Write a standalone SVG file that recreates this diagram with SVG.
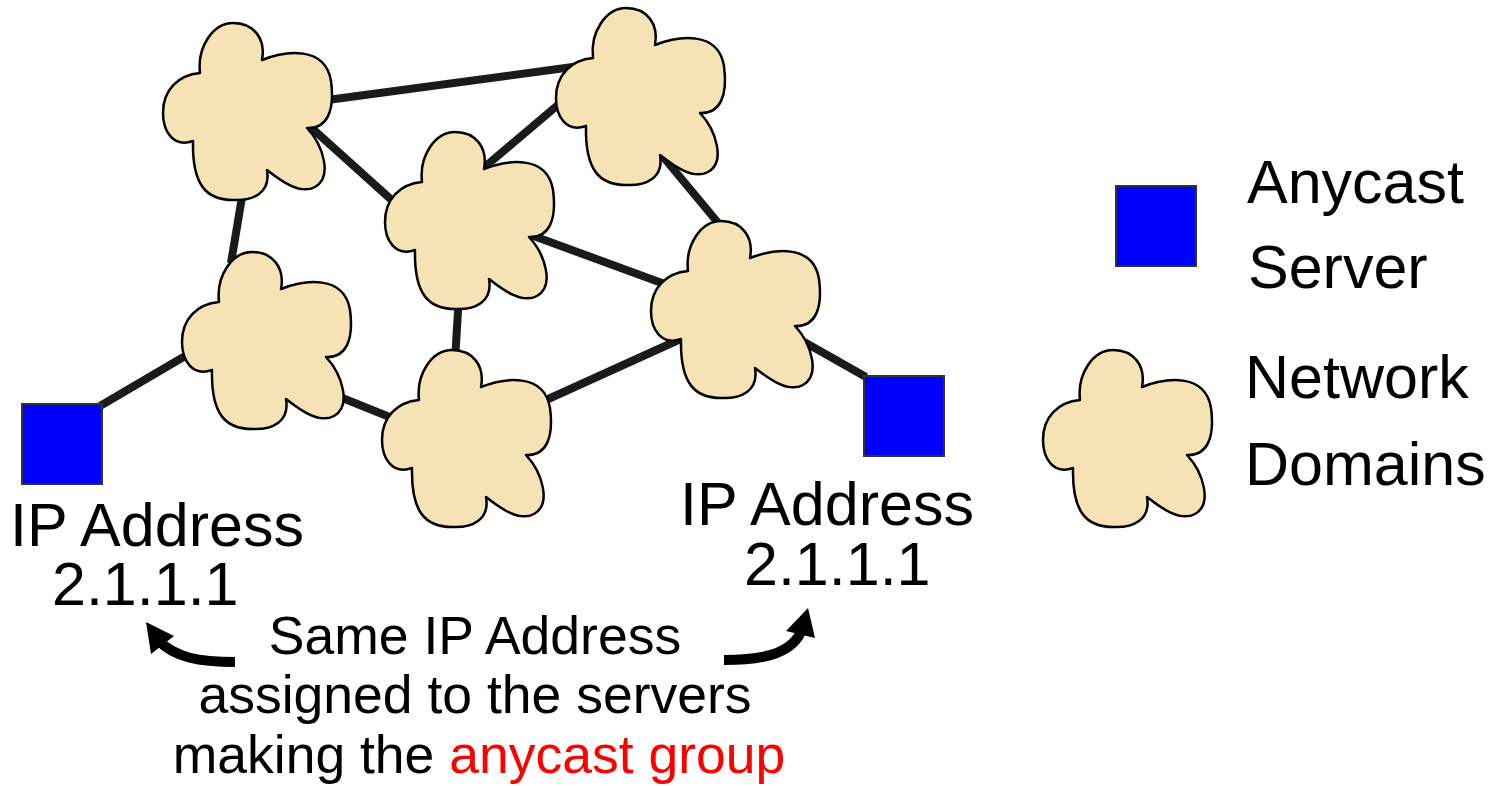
<svg xmlns="http://www.w3.org/2000/svg" xmlns:xlink="http://www.w3.org/1999/xlink" width="1498" height="786" viewBox="0 0 1498 786">
<style>
.link{stroke:#1a1a1a;stroke-width:8;fill:none;stroke-linecap:butt}
.cloud{fill:#F5E3B5;stroke:#000;stroke-width:2.5;stroke-linejoin:round}
.server{fill:#0000FF;stroke:#333;stroke-width:2}
.t{font-family:"Liberation Sans",Arial,sans-serif;fill:#000}
.lbl{font-size:61px}
.mid{font-size:53.5px}
.arrow{stroke:#000;stroke-width:10;fill:none}
</style>
<defs>
<path id="cloud" d="M37,50 C34,24 50,0 70,0 C91,0 103,16 99,37 C122,28 162,22 168,58 C172,88 164,106 144,105 C160,122 170,154 152,164 C137,172 118,158 104,147 C108,170 90,178 70,177 C44,177 29,163 30,118 C10,125 0,108 0,90 C0,67 15,52 37,50 Z"/>
</defs>
<g id="connectors">
<line class="link" x1="320" y1="101" x2="580" y2="66"/>
<line class="link" x1="305" y1="122" x2="395" y2="203"/>
<line class="link" x1="244" y1="185" x2="231" y2="263"/>
<line class="link" x1="565" y1="99" x2="480" y2="171"/>
<line class="link" x1="660" y1="153" x2="724" y2="230"/>
<line class="link" x1="520" y1="231" x2="670" y2="286"/>
<line class="link" x1="459" y1="295" x2="455" y2="360"/>
<line class="link" x1="330" y1="393" x2="397" y2="420"/>
<line class="link" x1="535" y1="405" x2="685" y2="337"/>
<line class="link" x1="100" y1="406" x2="192" y2="352"/>
<line class="link" x1="790" y1="334" x2="866" y2="377"/>
</g>
<g id="cloud-top-left"><use xlink:href="#cloud" href="#cloud" class="cloud" transform="translate(163,23)"/></g>
<g id="cloud-top-right"><use xlink:href="#cloud" href="#cloud" class="cloud" transform="translate(556,8)"/></g>
<g id="cloud-center"><use xlink:href="#cloud" href="#cloud" class="cloud" transform="translate(385,132)"/></g>
<g id="cloud-left"><use xlink:href="#cloud" href="#cloud" class="cloud" transform="translate(182,252)"/></g>
<g id="cloud-right"><use xlink:href="#cloud" href="#cloud" class="cloud" transform="translate(651,221)"/></g>
<g id="cloud-bottom"><use xlink:href="#cloud" href="#cloud" class="cloud" transform="translate(382,350)"/></g>
<g id="server-left">
<rect class="server" x="22" y="404" width="80" height="80"/>
<text class="t lbl" x="10" y="546">IP Address</text>
<text class="t lbl" x="52" y="605">2.1.1.1</text>
</g>
<g id="server-right">
<rect class="server" x="864" y="376" width="80" height="80"/>
<text class="t lbl" x="680" y="525">IP Address</text>
<text class="t lbl" x="744" y="585">2.1.1.1</text>
</g>
<g id="note">
<path class="arrow" d="M235,662 C200,662 175,658 158,640"/>
<polygon points="146,622 174,636 151,654" fill="#000"/>
<path class="arrow" d="M724,660 C760,660 790,655 801,632"/>
<polygon points="808,608 786,631 815,638" fill="#000"/>
<text class="t mid" x="475" y="654" text-anchor="middle">Same IP Address</text>
<text class="t mid" x="475" y="713" text-anchor="middle">assigned to the servers</text>
<text class="t mid" x="479" y="773" text-anchor="middle">making the <tspan fill="#FF0000">anycast group</tspan></text>
</g>
<g id="legend-server">
<rect class="server" x="1116" y="186" width="80" height="80"/>
<text class="t lbl" x="1247" y="203">Anycast</text>
<text class="t lbl" x="1248" y="288">Server</text>
</g>
<g id="legend-cloud">
<use xlink:href="#cloud" href="#cloud" class="cloud" transform="translate(1043,350)"/>
<text class="t lbl" x="1245" y="398">Network</text>
<text class="t lbl" x="1245" y="485">Domains</text>
</g>
</svg>
